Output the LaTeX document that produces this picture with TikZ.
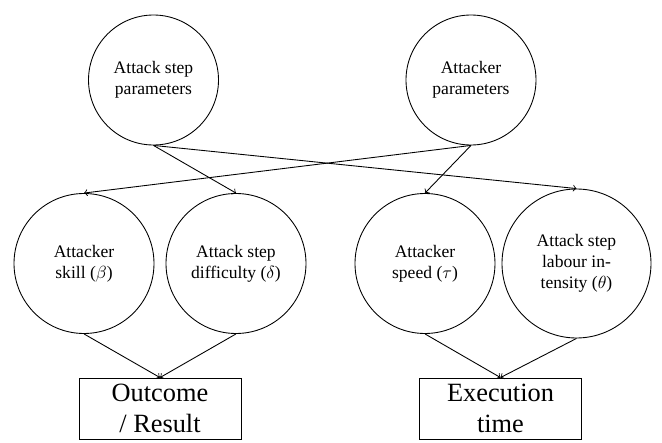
\documentclass[tikz,border=0pt]{standalone}
\usepackage{fontspec}
\setmainfont{Liberation Serif}
\usetikzlibrary{positioning,shapes,calc}

\tikzset{
	param/.style={draw, circle, align=center, minimum size=2.6cm, inner sep=1pt},
	latent/.style={draw, circle, align=center, minimum size=2.8cm, inner sep=1pt},
	observed/.style={draw, rectangle, align=center, minimum width=3.24cm, minimum height=1.22cm, inner sep=1pt, font=\fontsize{15}{18}\selectfont},
}

\begin{document}
\begin{tikzpicture}[line width=0.5pt]
			\useasboundingbox (0,0) rectangle (13.24,-8.86);
			% parameters
			\node[param] (asp) at (3.07,-1.6) {Attack step\\parameters};
			\node[param] (ap) at (9.42,-1.6) {Attacker\\parameters};
			% latent variables
			\node[latent] (skill) at (1.68,-5.27) {Attacker\\skill ($\beta$)};
			\node[latent] (diff) at (4.72,-5.27) {Attack step\\difficulty ($\delta$)};
			\node[latent] (speed) at (8.5,-5.27) {Attacker\\speed ($\tau$)};
			\node[latent, minimum size=2.98cm] (labour) at (11.53,-5.27) {Attack step\\labour in-\\tensity ($\theta$)};
			% observations
			\node[observed] (outcome) at (3.2,-8.17) {Outcome\\/ Result};
			\node[observed] (time) at (10.01,-8.17) {Execution\\time};

			\begin{scope}[->]
			\draw (asp.south)--(diff.north);
			\draw (asp.south)--(labour.north);
			\draw (ap.south)--(skill.north);
			\draw (ap.south)--(speed.north);
			\draw (skill.south)--(outcome.north);
			\draw (diff.south)--(outcome.north);
			\draw (speed.south)--(time.north);
			\draw (labour.south)--(time.north);
			\end{scope}
\end{tikzpicture}
\end{document}
